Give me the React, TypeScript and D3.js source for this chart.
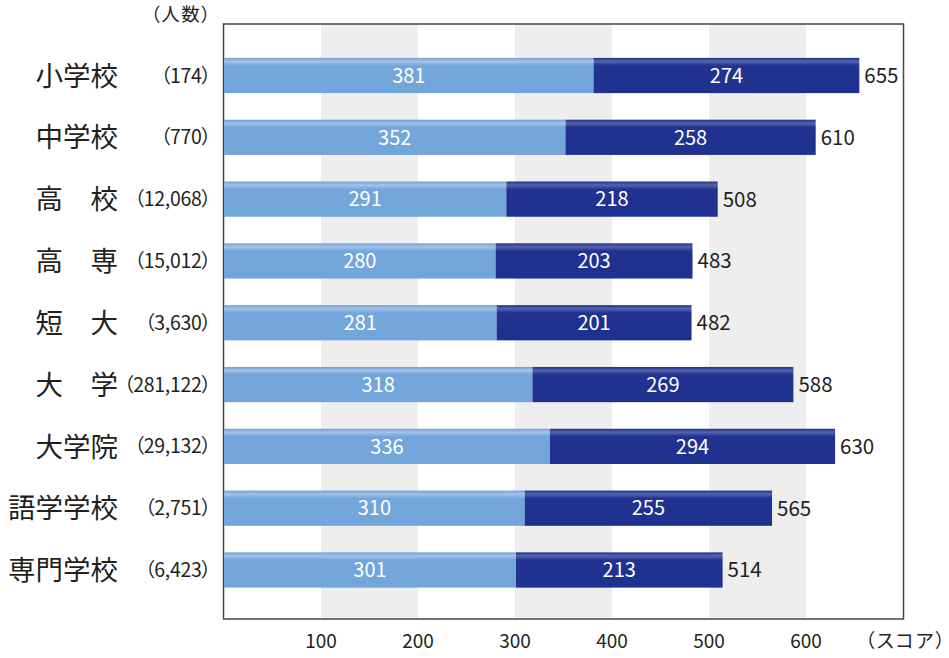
import React from "react";
import * as d3 from "d3";

const categories = ["小学校", "中学校", "高　校", "高　専", "短　大", "大　学", "大学院", "語学学校", "専門学校"];
const counts = ["（174）", "（770）", "（12,068）", "（15,012）", "（3,630）", "（281,122）", "（29,132）", "（2,751）", "（6,423）"];
const partA = [381, 352, 291, 280, 281, 318, 336, 310, 301];
const partB = [274, 258, 218, 203, 201, 269, 294, 255, 213];
const totals = [655, 610, 508, 483, 482, 588, 630, 565, 514];
const ticks = [100, 200, 300, 400, 500, 600];
const bands = [[100, 200], [300, 400], [500, 600]];

const W = 949, H = 658;
const left = 223.5, right = 903.5, top = 24, bottom = 619;
const FONT = "'Noto Sans CJK JP', 'Noto Sans', sans-serif";
const palt = { fontFeatureSettings: '"palt"' } as React.CSSProperties;

export default function App() {
  const x = d3.scaleLinear().domain([0, 700]).range([224, 903]);
  const y = d3.scaleBand<string>().domain(categories).range([44.6, 600.9]).paddingInner(0.43).paddingOuter(0.215);
  const bh = y.bandwidth();
  return (
    <svg width={W} height={H} style={{ position: "absolute", left: 0, top: 0, background: "#fff" }}>
      <defs>
        <linearGradient id="gA" x1="0" y1="0" x2="0" y2="1">
          <stop offset="0" stopColor="#6f9fd6" />
          <stop offset="0.1" stopColor="#a3c3e9" />
          <stop offset="0.22" stopColor="#74a6db" />
          <stop offset="1" stopColor="#72a5da" />
        </linearGradient>
        <linearGradient id="gB" x1="0" y1="0" x2="0" y2="1">
          <stop offset="0" stopColor="#1f2f8c" />
          <stop offset="0.1" stopColor="#5765ad" />
          <stop offset="0.22" stopColor="#213291" />
          <stop offset="1" stopColor="#1f3190" />
        </linearGradient>
      </defs>
      {bands.map((b, i) => (
        <rect key={i} x={x(b[0])} y={top} width={x(b[1]) - x(b[0])} height={bottom - top} fill="#eeeeee" />
      ))}
      <rect x={left} y={top} width={right - left} height={bottom - top} fill="none" stroke="#4a4446" strokeWidth={1.5} />
      {categories.map((c, i) => {
        const yy = y(c)!;
        const cy = yy + bh / 2;
        return (
          <g key={c}>
            <rect x={x(0)} y={yy} width={x(partA[i]) - x(0)} height={bh} fill="url(#gA)" />
            <rect x={x(partA[i])} y={yy} width={x(partA[i] + partB[i]) - x(partA[i])} height={bh} fill="url(#gB)" />
            <text x={(x(0) + x(partA[i])) / 2} y={cy} dy="0.36em" textAnchor="middle" fill="#fff" fontSize={20} fontFamily={FONT}>{partA[i]}</text>
            <text x={(x(partA[i]) + x(partA[i] + partB[i])) / 2} y={cy} dy="0.36em" textAnchor="middle" fill="#fff" fontSize={20} fontFamily={FONT}>{partB[i]}</text>
            <text x={x(partA[i] + partB[i]) + 5} y={cy} dy="0.36em" textAnchor="start" fill="#231f20" fontSize={20.5} fontFamily={FONT}>{totals[i]}</text>
            <text x={118} y={cy} dy="0.37em" textAnchor="end" fill="#231f20" fontSize={27.5} fontFamily={FONT}>{c}</text>
            <text x={211} y={cy} dy="0.36em" textAnchor="end" fill="#231f20" fontSize={19.5} fontFamily={FONT} letterSpacing={-0.3} style={palt}>{counts[i]}</text>
          </g>
        );
      })}
      <text x={212} y={21} textAnchor="end" fill="#231f20" fontSize={18.5} fontFamily={FONT} letterSpacing={1.5} style={palt}>（人数）</text>
      {ticks.map((t) => (
        <text key={t} x={x(t)} y={641} dy="0.36em" textAnchor="middle" fill="#231f20" fontSize={19} fontFamily={FONT}>{t}</text>
      ))}
      <text x={947} y={641} dy="0.36em" textAnchor="end" fill="#231f20" fontSize={19} fontFamily={FONT} letterSpacing={2} style={palt}>（スコア）</text>
    </svg>
  );
}
